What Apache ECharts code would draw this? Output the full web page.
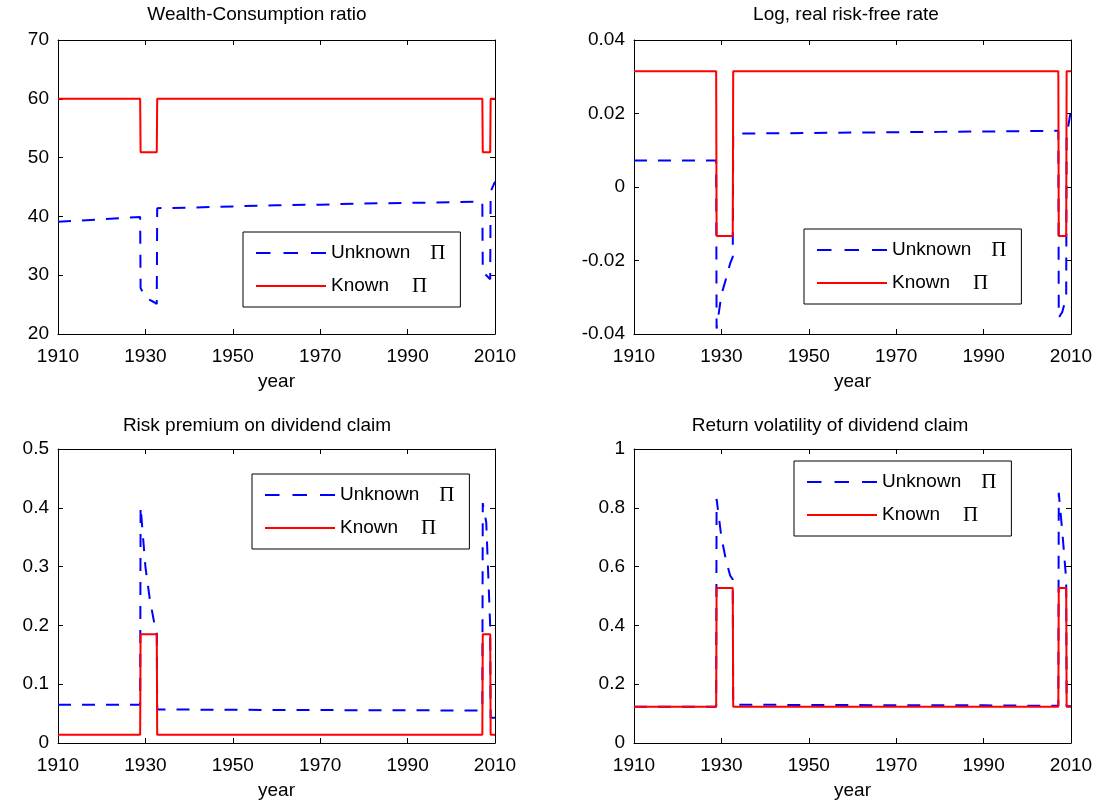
<!DOCTYPE html>
<html>
<head>
<meta charset="utf-8">
<script src="https://cdn.jsdelivr.net/npm/echarts@6/dist/echarts.min.js"></script>
<style>
html,body{margin:0;padding:0;background:#fff;}
#chart{width:1096px;height:808px;}
</style>
</head>
<body>
<div id="chart"></div>
<script>
// Shared time grid (years)
const years = [1910, 1920, 1928.8, 1928.9, 1930, 1931, 1932, 1932.6, 1932.7, 1940, 1950, 1960, 1970, 1980, 1990, 2000, 2007.1, 2007.2, 2008, 2008.9, 2009, 2010];

// Wealth-Consumption ratio
const wcUnknown = [39.1, 39.5, 39.9, 27.8, 26.3, 25.8, 25.4, 25.1, 41.4, 41.5, 41.7, 41.9, 42.0, 42.2, 42.3, 42.4, 42.5, 30.5, 30.0, 29.3, 44.2, 45.9];
const wcKnown   = [60, 60, 60, 50.9, 50.9, 50.9, 50.9, 50.9, 60, 60, 60, 60, 60, 60, 60, 60, 60, 50.9, 50.9, 50.9, 60, 60];

// Log, real risk-free rate
const rfUnknown = [0.0072, 0.0072, 0.0072, -0.0385, -0.0293, -0.0252, -0.0208, -0.019, 0.0145, 0.0146, 0.0147, 0.0148, 0.0149, 0.0150, 0.0151, 0.0152, 0.0153, -0.0356, -0.034, -0.030, 0.014, 0.021];
const rfKnown   = [0.0315, 0.0315, 0.0315, -0.0133, -0.0133, -0.0133, -0.0133, -0.0133, 0.0315, 0.0315, 0.0315, 0.0315, 0.0315, 0.0315, 0.0315, 0.0315, 0.0315, -0.0133, -0.0133, -0.0133, 0.0315, 0.0315];

// Risk premium on dividend claim
const rpUnknown = [0.065, 0.065, 0.065, 0.402, 0.300, 0.245, 0.205, 0.196, 0.057, 0.0568, 0.0565, 0.0562, 0.056, 0.0558, 0.0556, 0.0554, 0.0552, 0.408, 0.375, 0.199, 0.043, 0.043];
const rpKnown   = [0.014, 0.014, 0.014, 0.185, 0.185, 0.185, 0.185, 0.185, 0.014, 0.014, 0.014, 0.014, 0.014, 0.014, 0.014, 0.014, 0.014, 0.185, 0.185, 0.185, 0.014, 0.014];

// Return volatility of dividend claim
const volUnknown = [0.123, 0.123, 0.123, 0.830, 0.700, 0.625, 0.570, 0.556, 0.130, 0.130, 0.129, 0.129, 0.128, 0.128, 0.128, 0.127, 0.127, 0.851, 0.72, 0.556, 0.125, 0.125];
const volKnown   = [0.123, 0.123, 0.123, 0.527, 0.527, 0.527, 0.527, 0.527, 0.123, 0.123, 0.123, 0.123, 0.123, 0.123, 0.123, 0.123, 0.123, 0.527, 0.527, 0.527, 0.123, 0.123];

const xTicks = [1910, 1930, 1950, 1970, 1990, 2010];
const panelTitles = ['Wealth-Consumption ratio', 'Log, real risk-free rate', 'Risk premium on dividend claim', 'Return volatility of dividend claim'];
const yRanges = [[20, 70, 10], [-0.04, 0.04, 0.02], [0, 0.5, 0.1], [0, 1, 0.2]];
const unknownSets = [wcUnknown, rfUnknown, rpUnknown, volUnknown];
const knownSets = [wcKnown, rfKnown, rpKnown, volKnown];

const FONT = "'Liberation Sans', Arial, Helvetica, sans-serif";
const grids = [
  {left: 58, top: 40, width: 437, height: 294},
  {left: 634, top: 40, width: 437, height: 294},
  {left: 58, top: 449, width: 437, height: 294},
  {left: 634, top: 449, width: 437, height: 294}
];
const legendPos = [[243, 232], [804, 229], [252, 474], [794, 461]];
const titlePos = [[257, 15], [846, 15], [257, 426], [830, 426]];
const dashIcon = 'path://M0 0H14.5V2H0Z M27.5 0H42V2H27.5Z M55 0H70V2H55Z';
const solidIcon = 'path://M0 0H70V2H0Z';

const xAxes = [], yAxes = [], series = [], legends = [], graphics = [];
const fmt = v => String(+(+v).toFixed(3));

grids.forEach((g, i) => {
  const base = {
    gridIndex: i, type: 'value', min: 1910, max: 2010, interval: 20,
    axisLine: {show: true, onZero: false, lineStyle: {color: '#000', width: 1}},
    axisTick: {show: true, inside: true, length: 5, customValues: xTicks, lineStyle: {color: '#000'}},
    splitLine: {show: false}
  };
  xAxes.push(Object.assign({}, base, {
    position: 'bottom',
    axisLabel: {show: true, customValues: xTicks, color: '#000', fontSize: 19, fontFamily: FONT, margin: 13,
      formatter: v => String(Math.round(v))},
    name: 'year', nameLocation: 'middle', nameGap: 38,
    nameTextStyle: {color: '#000', fontSize: 19, fontFamily: FONT}
  }));
  xAxes.push(Object.assign({}, base, {position: 'top', axisLabel: {show: false}}));
  const [ymin, ymax, yint] = yRanges[i];
  const ybase = {
    gridIndex: i, type: 'value', min: ymin, max: ymax, interval: yint,
    axisLine: {show: true, onZero: false, lineStyle: {color: '#000', width: 1}},
    axisTick: {show: true, inside: true, length: 5, lineStyle: {color: '#000'}},
    splitLine: {show: false}
  };
  yAxes.push(Object.assign({}, ybase, {
    position: 'left',
    axisLabel: {show: true, color: '#000', fontSize: 19, fontFamily: FONT, margin: 9, formatter: fmt}
  }));
  yAxes.push(Object.assign({}, ybase, {position: 'right', axisLabel: {show: false}}));

  series.push({
    name: 'Unknown', type: 'line', xAxisIndex: 2 * i, yAxisIndex: 2 * i,
    data: years.map((t, k) => [t, unknownSets[i][k]]),
    symbol: 'none', animation: false, z: 2,
    lineStyle: {color: '#0000ff', width: 2, type: [13, 11]},
    itemStyle: {color: '#0000ff'}
  });
  series.push({
    name: 'Known', type: 'line', xAxisIndex: 2 * i, yAxisIndex: 2 * i,
    data: years.map((t, k) => [t, knownSets[i][k]]),
    symbol: 'none', animation: false, z: 3,
    lineStyle: {color: '#ff0000', width: 2, type: 'solid'},
    itemStyle: {color: '#ff0000'}
  });

  legends.push({
    data: [
      {name: 'Unknown', icon: dashIcon, itemStyle: {color: '#0000ff', borderWidth: 0}},
      {name: 'Known', icon: solidIcon, itemStyle: {color: '#ff0000', borderWidth: 0}}
    ],
    orient: 'vertical',
    left: legendPos[i][0], top: legendPos[i][1],
    backgroundColor: '#fff',
    borderColor: '#000', borderWidth: 1,
    padding: [10, 15, 10, 13],
    itemWidth: 70, itemHeight: 2, itemGap: 11,
    selectedMode: false,
    formatter: name => name === 'Unknown' ? '{t|Unknown}{p|Π}' : '{t|Known}{q|Π}',
    textStyle: {
      color: '#000', fontSize: 19, fontFamily: FONT, lineHeight: 22,
      rich: {
        t: {color: '#000', fontSize: 19, fontFamily: FONT, lineHeight: 22},
        p: {color: '#000', fontSize: 21, fontFamily: "'Liberation Serif', 'Times New Roman', serif", lineHeight: 22, padding: [0, 0, 0, 20]},
        q: {color: '#000', fontSize: 21, fontFamily: "'Liberation Serif', 'Times New Roman', serif", lineHeight: 22, padding: [0, 0, 0, 23]}
      }
    }
  });

  graphics.push({
    type: 'text', x: titlePos[i][0], y: titlePos[i][1],
    style: {text: panelTitles[i], fill: '#000', font: "19px " + FONT, align: 'center', verticalAlign: 'middle'}
  });
});

const chart = echarts.init(document.getElementById('chart'), null, {renderer: 'canvas'});
chart.setOption({
  animation: false,
  backgroundColor: '#fff',
  grid: grids,
  xAxis: xAxes,
  yAxis: yAxes,
  legend: legends,
  series: series,
  graphic: graphics
});
</script>
</body>
</html>
